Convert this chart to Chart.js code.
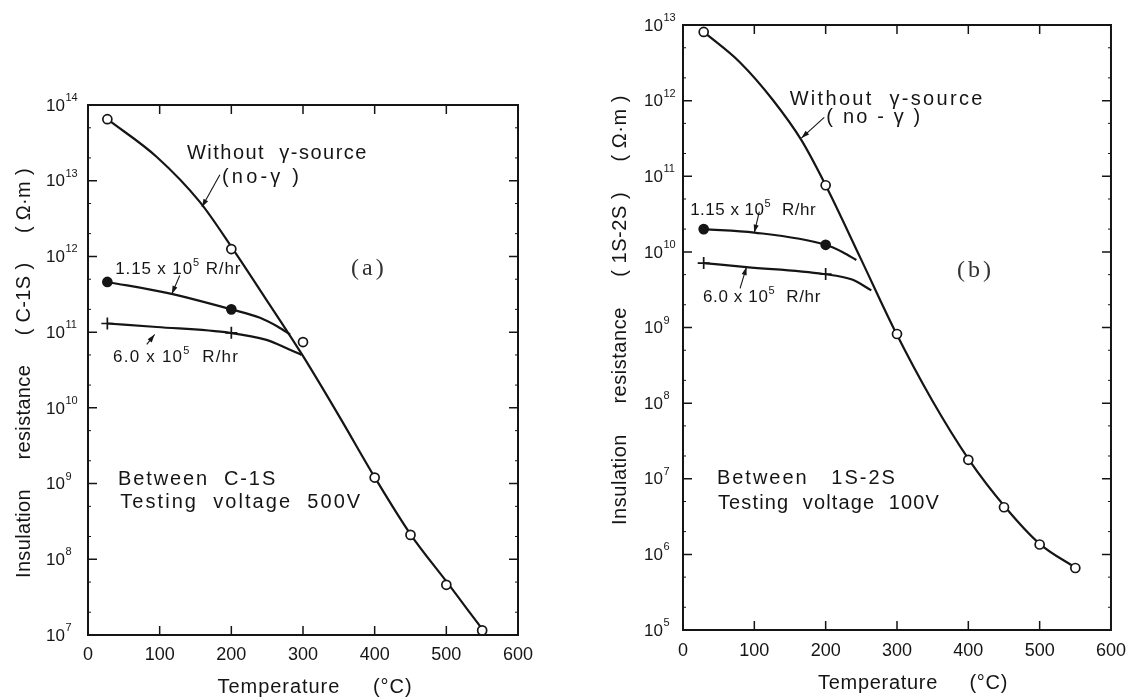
<!DOCTYPE html>
<html>
<head>
<meta charset="utf-8">
<script src="https://cdn.jsdelivr.net/npm/chart.js@4/dist/chart.umd.min.js"></script>
<style>
  html, body { margin: 0; padding: 0; background: #fff; }
  #wrap { position: relative; width: 1136px; height: 699px; overflow: hidden; }
  canvas { position: absolute; top: 0; }
  #ca { left: 0; }
  #cb { left: 568px; }
</style>
</head>
<body>
<div id="wrap">
  <canvas id="ca" width="568" height="699"></canvas>
  <canvas id="cb" width="568" height="699"></canvas>
</div>
<script>
// ---- axis ticks ----
const tempTicks = [0, 100, 200, 300, 400, 500, 600];
const aDecades = [7, 8, 9, 10, 11, 12, 13, 14];
const bDecades = [5, 6, 7, 8, 9, 10, 11, 12, 13];

// ---- (a) between C-1S, testing voltage 500 V ----
const aMeasT    = [27, 200, 300, 400, 450, 500, 550];
const aNoGamma  = [6.5e13, 1.25e12, 7.4e10, 1.2e9, 2.1e8, 4.6e7, 1.15e7];
const aRateT    = [27, 200];
const aLowRate  = [4.6e11, 2.0e11];   // 1.15 x 10^5 R/hr
const aHighRate = [1.3e11, 9.8e10];   // 6.0 x 10^5 R/hr
// smooth curves drawn through the measurements
const aCurveT     = [27, 96, 156, 202, 246, 299, 351, 401, 450, 503, 528, 551];
const aCurve      = [6.5e13, 2.06e13, 5.25e12, 1.26e12, 2.95e11, 5.0e10, 7.6e9, 1.17e9, 2.14e8, 4.7e7, 2.27e7, 1.17e7];
const aLowCurveT  = [27, 110, 200, 240, 265, 282];
const aLowCurve   = [4.6e11, 3.3e11, 2.0e11, 1.55e11, 1.18e11, 9.3e10];
const aHighCurveT = [27, 96, 198, 249, 281, 298];
const aHighCurve  = [1.3e11, 1.17e11, 9.8e10, 7.9e10, 5.9e10, 5.0e10];

// ---- (b) between 1S-2S, testing voltage 100 V ----
const bMeasT    = [29, 200, 300, 400, 450, 500, 550];
const bNoGamma  = [8.1e12, 7.6e10, 8.2e8, 1.78e7, 4.2e6, 1.35e6, 6.6e5];
const bRateT    = [29, 200];
const bLowRate  = [2.0e10, 1.24e10];
const bHighRate = [7.1e9, 5.1e9];
const bCurveT     = [29, 80, 126, 166, 200, 249, 298, 349, 401, 451, 500, 551];
const bCurve      = [8.1e12, 3.2e12, 1.02e12, 3.0e11, 7.6e10, 8.2e9, 8.7e8, 1.1e8, 1.78e7, 4.3e6, 1.38e6, 6.6e5];
const bLowCurveT  = [29, 100, 200, 224, 243];
const bLowCurve   = [2.0e10, 1.8e10, 1.24e10, 9.9e9, 7.8e9];
const bHighCurveT = [29, 89, 197, 237, 264];
const bHighCurve  = [7.1e9, 6.3e9, 5.1e9, 4.3e9, 3.1e9];

const INK = '#151515';
const SANS = '"Liberation Sans", Arial, sans-serif';
const SERIF = '"Liberation Serif", "DejaVu Serif", serif';

const pts = (xs, ys) => xs.map((x, i) => ({ x: x, y: ys[i] }));

function curve(xs, ys) {
  return {
    data: pts(xs, ys), borderColor: INK, borderWidth: 2.2, pointRadius: 0,
    cubicInterpolationMode: 'monotone', fill: false, order: 3, clip: false
  };
}
function markers(xs, ys, style) {
  const d = {
    data: pts(xs, ys), showLine: false, pointRadius: 4.5, pointBorderWidth: 1.7,
    pointBorderColor: INK, order: 0, clip: false
  };
  if (style === 'open') { d.pointStyle = 'circle'; d.pointBackgroundColor = '#fff'; }
  if (style === 'filled') { d.pointStyle = 'circle'; d.pointBackgroundColor = INK; }
  if (style === 'plus') { d.pointStyle = 'cross'; d.pointRadius = 6; d.pointBackgroundColor = INK; }
  return d;
}

// Text made of plain and superscript runs, letter-spaced to span a given width.
function richText(ctx, parts, x, y, size, width) {
  const supSize = Math.round(size * 0.62);
  ctx.textAlign = 'left';
  ctx.textBaseline = 'alphabetic';
  ctx.letterSpacing = '0px';
  let w0 = 0, n = 0;
  for (const [s, sup] of parts) {
    ctx.font = (sup ? supSize : size) + 'px ' + SANS;
    w0 += ctx.measureText(s).width;
    if (!sup) n += s.length;
  }
  const sp = Math.max(0, (width - w0) / n);
  let cx = x;
  for (const [s, sup] of parts) {
    ctx.font = (sup ? supSize : size) + 'px ' + SANS;
    ctx.letterSpacing = (sup ? 0 : sp) + 'px';
    ctx.fillText(s, cx, sup ? y - size * 0.48 : y);
    cx += ctx.measureText(s).width + (sup ? 1 : 0);
  }
  ctx.letterSpacing = '0px';
}

function arrow(ctx, x1, y1, x2, y2) {
  ctx.lineWidth = 1.1;
  ctx.beginPath(); ctx.moveTo(x1, y1); ctx.lineTo(x2, y2); ctx.stroke();
  const a = Math.atan2(y2 - y1, x2 - x1), L = 8, W = 2.6;
  ctx.beginPath();
  ctx.moveTo(x2, y2);
  ctx.lineTo(x2 - L * Math.cos(a) + W * Math.sin(a), y2 - L * Math.sin(a) - W * Math.cos(a));
  ctx.lineTo(x2 - L * Math.cos(a) - W * Math.sin(a), y2 - L * Math.sin(a) + W * Math.cos(a));
  ctx.closePath(); ctx.fill();
}

// frame, inward ticks and decade labels
const framePlugin = {
  id: 'frame',
  beforeDatasetsDraw(chart) {
    const { ctx, chartArea: ca, scales: { x, y } } = chart;
    const dec = chart.options.plugins.frame.decades;
    ctx.save();
    ctx.strokeStyle = INK; ctx.fillStyle = INK;
    ctx.lineWidth = 2;
    ctx.strokeRect(ca.left, ca.top, ca.right - ca.left, ca.bottom - ca.top);
    ctx.lineWidth = 1.5;
    ctx.beginPath();
    for (const t of tempTicks.slice(1, -1)) {
      const px = x.getPixelForValue(t);
      ctx.moveTo(px, ca.top); ctx.lineTo(px, ca.top + 9);
      ctx.moveTo(px, ca.bottom); ctx.lineTo(px, ca.bottom - 9);
    }
    for (const e of dec) {
      const py = y.getPixelForValue(Math.pow(10, e));
      ctx.moveTo(ca.left, py); ctx.lineTo(ca.left + 9, py);
      ctx.moveTo(ca.right, py); ctx.lineTo(ca.right - 9, py);
    }
    ctx.stroke();
    ctx.lineWidth = 1;
    ctx.beginPath();
    for (const e of dec.slice(0, -1)) {
      for (const m of [2, 5]) {
        const py = y.getPixelForValue(m * Math.pow(10, e));
        ctx.moveTo(ca.left, py); ctx.lineTo(ca.left + 3, py);
        ctx.moveTo(ca.right, py); ctx.lineTo(ca.right - 3, py);
      }
    }
    ctx.stroke();
    // decade labels 10^n
    for (const e of dec) {
      const py = y.getPixelForValue(Math.pow(10, e));
      const x0 = ca.left - chart.options.plugins.frame.labelOffset;
      ctx.textAlign = 'left'; ctx.textBaseline = 'middle';
      ctx.font = '17px ' + SANS;
      ctx.fillText('10', x0, py + 1);
      const w = ctx.measureText('10').width;
      ctx.font = '11px ' + SANS;
      ctx.fillText(String(e), x0 + w + 0.5, py - 7);
    }
    ctx.restore();
  }
};

// axis titles, annotations and leader arrows
const notesPlugin = {
  id: 'notes',
  afterDatasetsDraw(chart) {
    const { ctx, scales: { x, y } } = chart;
    const n = chart.options.plugins.notes;
    const P = (t, v) => [x.getPixelForValue(t), y.getPixelForValue(v)];
    ctx.save();
    ctx.fillStyle = INK; ctx.strokeStyle = INK;

    // y title, rotated
    ctx.save();
    ctx.translate(n.yTitle.x, n.yTitle.y);
    ctx.rotate(-Math.PI / 2);
    richText(ctx, [[n.yTitle.text, false]], -n.yTitle.w / 2, 7, 20, n.yTitle.w);
    ctx.restore();

    // x title
    richText(ctx, [[n.xTitle.text, false]], n.xTitle.x - n.xTitle.w / 2, n.xTitle.y, 20, n.xTitle.w);

    // text labels anchored in data space
    for (const lab of n.labels) {
      const [px, py] = P(lab.t, lab.v);
      richText(ctx, lab.parts, px, py, lab.size || 20, lab.w);
    }
    // panel tag
    const [tx, ty] = P(n.tag.t, n.tag.v);
    ctx.font = '24px ' + SERIF;
    ctx.letterSpacing = '3px';
    ctx.fillStyle = '#333';
    ctx.textAlign = 'left'; ctx.textBaseline = 'alphabetic';
    ctx.fillText(n.tag.text, tx, ty);
    ctx.letterSpacing = '0px';
    ctx.fillStyle = INK;

    // leaders
    for (const a of n.arrows) {
      const [x1, y1] = P(a[0], a[1]);
      const [x2, y2] = P(a[2], a[3]);
      arrow(ctx, x1, y1, x2, y2);
    }
    ctx.restore();
  }
};

function buildChart(id, cfg) {
  return new Chart(document.getElementById(id), {
    type: 'line',
    data: { datasets: cfg.datasets },
    plugins: [framePlugin, notesPlugin],
    options: {
      responsive: false, animation: false, devicePixelRatio: 1,
      layout: { padding: { left: 0, right: cfg.padRight, top: cfg.padTop, bottom: 0 } },
      scales: {
        x: {
          type: 'linear', min: 0, max: 600,
          afterBuildTicks: s => { s.ticks = tempTicks.map(v => ({ value: v })); },
          ticks: { color: INK, font: { family: SANS, size: 18 }, padding: cfg.xPad, maxRotation: 0 },
          grid: { display: false, drawTicks: false },
          border: { display: false },
          afterFit: s => { s.height = cfg.xHeight; }
        },
        y: {
          type: 'logarithmic', min: cfg.yMin, max: cfg.yMax,
          ticks: { display: false },
          grid: { display: false, drawTicks: false },
          border: { display: false },
          afterFit: s => { s.width = cfg.yWidth; }
        }
      },
      plugins: {
        legend: { display: false },
        tooltip: { enabled: false },
        frame: { decades: cfg.decades, labelOffset: cfg.labelOffset },
        notes: cfg.notes
      }
    }
  });
}

const dose = (lead, gap) => [[lead + ' x 10', false], ['5', true], [gap + 'R/hr', false]];

buildChart('ca', {
  padRight: 50, padTop: 105, xHeight: 64, yWidth: 88, xPad: 9,
  yMin: 1e7, yMax: 1e14, decades: aDecades, labelOffset: 42,
  datasets: [
    curve(aCurveT, aCurve),
    curve(aLowCurveT, aLowCurve),
    curve(aHighCurveT, aHighCurve),
    markers(aMeasT, aNoGamma, 'open'),
    markers(aRateT, aLowRate, 'filled'),
    markers(aRateT, aHighRate, 'plus')
  ],
  notes: {
    yTitle: { text: 'Insulation     resistance     ( C-1S )     ( Ω·m )', x: 23, y: 373, w: 410 },
    xTitle: { text: 'Temperature     (°C)', x: 315, y: 693, w: 195 },
    labels: [
      { t: 138, v: 1.94e13, w: 181, parts: [['Without  γ-source', false]] },
      { t: 187, v: 9.3e12, w: 80, parts: [['(no-γ )', false]] },
      { t: 38, v: 5.9e11, w: 125, size: 17, parts: dose('1.15', ' ') },
      { t: 35, v: 4.0e10, w: 125, size: 17, parts: dose('6.0', '  ') },
      { t: 42, v: 9.55e8, w: 159, parts: [['Between  C-1S', false]] },
      { t: 45, v: 4.75e8, w: 242, parts: [['Testing  voltage  500V', false]] }
    ],
    tag: { text: '(a)', t: 367, v: 5.7e11 },
    arrows: [
      [184, 1.2e13, 159, 4.5e12],
      [128, 5.6e11, 117, 3.2e11],
      [82, 6.9e10, 93, 9.3e10]
    ]
  }
});

buildChart('cb', {
  padRight: 24, padTop: 25, xHeight: 69, yWidth: 115, xPad: 10,
  yMin: 1e5, yMax: 1e13, decades: bDecades, labelOffset: 39,
  datasets: [
    curve(bCurveT, bCurve),
    curve(bLowCurveT, bLowCurve),
    curve(bHighCurveT, bHighCurve),
    markers(bMeasT, bNoGamma, 'open'),
    markers(bRateT, bLowRate, 'filled'),
    markers(bRateT, bHighRate, 'plus')
  ],
  notes: {
    yTitle: { text: 'Insulation     resistance     ( 1S-2S )     ( Ω·m )', x: 51, y: 310, w: 430 },
    xTitle: { text: 'Temperature     (°C)', x: 345, y: 689, w: 190 },
    labels: [
      { t: 149.5, v: 8.75e11, w: 195, parts: [['Without  γ-source', false]] },
      { t: 201, v: 5.06e11, w: 96, parts: [['( no - γ )', false]] },
      { t: 10, v: 3.07e10, w: 125, size: 17, parts: dose('1.15', '  ') },
      { t: 28, v: 2.17e9, w: 117, size: 17, parts: dose('6.0', '  ') },
      { t: 47.5, v: 8.5e6, w: 180, parts: [['Between   1S-2S', false]] },
      { t: 49, v: 4.0e6, w: 222, parts: [['Testing  voltage  100V', false]] }
    ],
    tag: { text: '(b)', t: 384, v: 4.6e9 },
    arrows: [
      [198, 6.0e11, 166, 3.2e11],
      [107, 3.4e10, 100, 1.8e10],
      [80, 3.3e9, 89, 6.3e9]
    ]
  }
});
</script>
</body>
</html>
